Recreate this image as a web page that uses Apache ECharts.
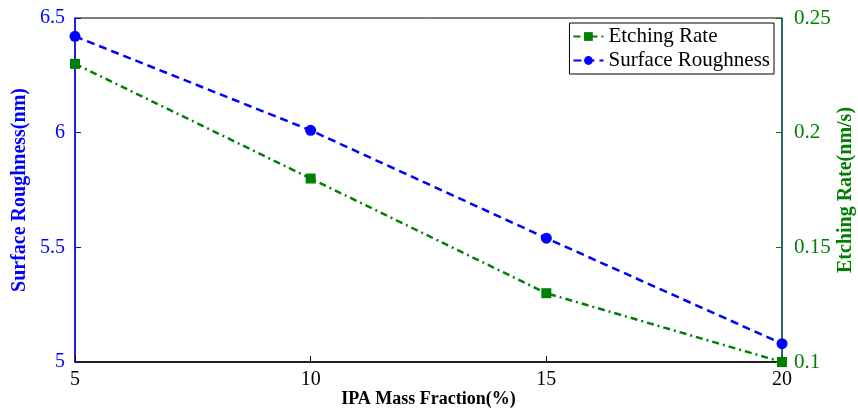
<!DOCTYPE html>
<html>
<head>
<meta charset="utf-8">
<script src="https://cdn.jsdelivr.net/npm/echarts@6/dist/echarts.min.js"></script>
<style>
  html, body { margin: 0; padding: 0; background: #fff; }
  #chart { width: 858px; height: 409px; }
</style>
</head>
<body>
<div id="chart"></div>
<script>
const ipaFraction = [5, 10, 15, 20]
const roughness = [6.42, 6.01, 5.54, 5.08]
const etchRate = [0.23, 0.18, 0.13, 0.10]

const serif = 'Liberation Serif'
const blue = '#0000ff'
const green = '#008000'

const chart = echarts.init(document.getElementById('chart'))

chart.setOption({
  animation: false,
  grid: {
    left: 75,
    right: 76,
    top: 18,
    bottom: 47,
    outerBoundsMode: 'none',
    containLabel: false,
    show: true,
    borderColor: '#000',
    borderWidth: 1
  },
  legend: {
    right: 84,
    top: 23,
    orient: 'vertical',
    itemGap: 3,
    itemWidth: 30,
    itemHeight: 11,
    padding: [3, 4, 3, 3],
    borderColor: '#000',
    borderWidth: 1,
    backgroundColor: '#fff',
    textStyle: { fontFamily: serif, fontSize: 21, color: '#000' },
    data: ['Etching Rate', 'Surface Roughness']
  },
  xAxis: {
    type: 'value',
    min: 5,
    max: 20,
    interval: 5,
    name: 'IPA Mass Fraction(%)',
    nameLocation: 'middle',
    nameGap: 28,
    nameMoveOverlap: false,
    nameTextStyle: { fontFamily: serif, fontSize: 18, fontWeight: 'bold', color: '#000' },
    axisLine: { lineStyle: { color: '#000', width: 1.5 } },
    axisTick: { inside: true, length: 6, lineStyle: { color: '#000' } },
    axisLabel: { fontFamily: serif, fontSize: 20, color: '#000', margin: 8 },
    splitLine: { show: false }
  },
  yAxis: [
    {
      type: 'value',
      min: 5,
      max: 6.5,
      interval: 0.5,
      name: 'Surface Roughness(nm)',
      nameLocation: 'middle',
      nameGap: 45,
      nameMoveOverlap: false,
      nameTextStyle: { fontFamily: serif, fontSize: 20, fontWeight: 'bold', color: blue },
      axisLine: { show: true, lineStyle: { color: blue, width: 1.5 } },
      axisTick: { show: true, inside: true, length: 6, lineStyle: { color: blue } },
      axisLabel: { fontFamily: serif, fontSize: 20, color: blue, margin: 10 },
      splitLine: { show: false }
    },
    {
      type: 'value',
      min: 0.1,
      max: 0.25,
      interval: 0.05,
      position: 'right',
      name: 'Etching Rate(nm/s)',
      nameLocation: 'middle',
      nameGap: 54,
      nameRotate: 90,
      nameMoveOverlap: false,
      nameTextStyle: { fontFamily: serif, fontSize: 20, fontWeight: 'bold', color: green },
      axisLine: { show: true, lineStyle: { color: '#17606a', width: 1.5 } },
      axisTick: { show: true, inside: true, length: 6, lineStyle: { color: green } },
      axisLabel: { fontFamily: serif, fontSize: 21, color: green, margin: 12 },
      splitLine: { show: false }
    }
  ],
  series: [
    {
      name: 'Etching Rate',
      type: 'line',
      yAxisIndex: 1,
      data: ipaFraction.map((x, i) => [x, etchRate[i]]),
      symbol: 'rect',
      symbolSize: 10,
      itemStyle: { color: green },
      lineStyle: { color: green, width: 2.5, type: [7, 4, 2, 4] },
      z: 3
    },
    {
      name: 'Surface Roughness',
      type: 'line',
      yAxisIndex: 0,
      data: ipaFraction.map((x, i) => [x, roughness[i]]),
      symbol: 'circle',
      symbolSize: 11,
      itemStyle: { color: blue },
      lineStyle: { color: blue, width: 2.5, type: [8, 5] },
      z: 4
    }
  ]
})
</script>
</body>
</html>
